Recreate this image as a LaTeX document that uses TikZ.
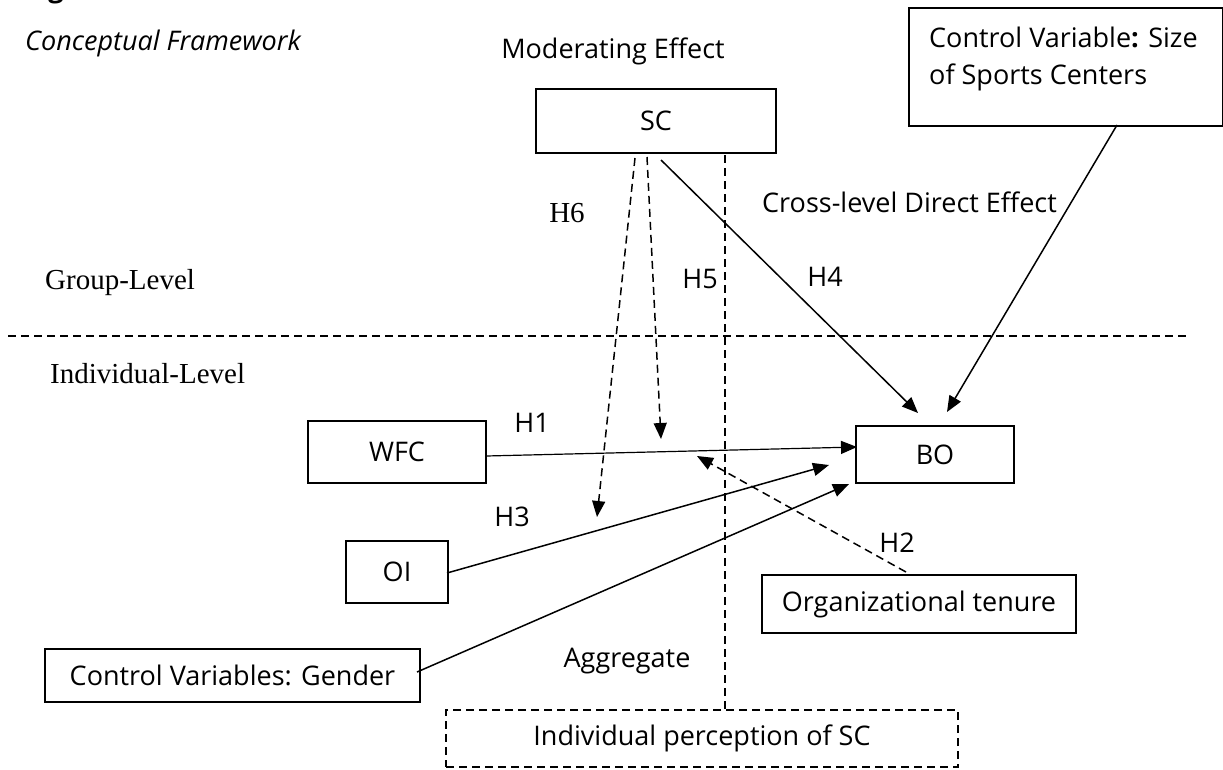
\documentclass[tikz,border=0pt]{standalone}
\usepackage{fontspec}
\setmainfont{Open Sans}
\newfontfamily\serifA{Liberation Serif}
\usetikzlibrary{arrows.meta}
\tikzset{
  box/.style={draw, line width=1.6pt, inner sep=0pt, font=\fontsize{27}{38}\selectfont},
  dbox/.style={box, line width=1.4pt, dash pattern=on 8pt off 5pt},
  lbl/.style={inner sep=0pt, anchor=base, font=\fontsize{27}{38}\selectfont},
  slbl/.style={inner sep=0pt, anchor=base, font=\serifA\fontsize{29}{34}\selectfont},
  arr/.style={line width=1.5pt, -{Triangle[length=16pt,width=13pt]}},
  darr/.style={arr, dash pattern=on 8pt off 5pt},
  dline/.style={line width=1.5pt, dash pattern=on 8pt off 5pt}
}
\begin{document}
\begin{tikzpicture}[x=1pt,y=-1pt]
\useasboundingbox (0,0) rectangle (1223,769);
% titles
\node[lbl, anchor=base west, font=\bfseries\fontsize{27}{38}\selectfont] (fig) at (25,-3) {Figure 1};
\node[lbl, anchor=base west, font=\itshape\fontsize{27}{38}\selectfont] (title) at (25,50) {Conceptual Framework};
\node[lbl] (mod) at (613,58) {Moderating Effect};
% boxes
\node[box, minimum width=240pt, minimum height=64pt] (sc) at (656,121) {SC};
\node[box, minimum width=314pt, minimum height=118pt, anchor=north west] (cv) at (908,7) {};
\node[inner sep=0pt, anchor=base west, align=left, font=\fontsize{27}{37}\selectfont] (cvt) at (929,84) {Control Variable{\bfseries :} Size\\of Sports Centers};
\node[box, minimum width=158pt, minimum height=57pt] (bo) at (935,454.5) {BO};
\node[box, minimum width=178pt, minimum height=62pt] (wfc) at (397,452) {WFC};
\node[box, minimum width=102pt, minimum height=62pt] (oi) at (397,572) {OI};
\node[box, minimum width=375pt, minimum height=53pt] (gen) at (232.5,675.5) {Control Variables: Gender};
\node[box, minimum width=314pt, minimum height=58pt] (ot) at (919,604) {Organizational tenure};
\node[dbox, minimum width=512pt, minimum height=57pt] (ip) at (702,738.5) {Individual perception of SC};
% level labels
\node[slbl, anchor=base west] (gl) at (45,289) {Group-Level};
\node[slbl, anchor=base west] (il) at (50,383) {Individual-Level};
\coordinate (dl1) at (8,336);
\coordinate (dl2) at (1190,336);
\draw[dline] (dl1) -- (dl2);
% hypothesis labels
\node[slbl] (h6) at (567,222) {H6};
\node[lbl] (h5) at (700,288) {H5};
\node[lbl] (h4) at (825,286) {H4};
\node[lbl, anchor=base west] (cl) at (762,212) {Cross-level Direct Effect};
\node[lbl] (h1) at (532,432) {H1};
\node[lbl] (h3) at (512,526) {H3};
\node[lbl] (h2) at (897,552) {H2};
\node[lbl] (agg) at (627,667) {Aggregate};
% coordinates
\coordinate (h4s) at (661,160);
\coordinate (h4e) at (918,413);
\coordinate (cvs) at (1117,125);
\coordinate (cve) at (947,412);
\coordinate (h1s) at (486,456);
\coordinate (h1e) at (857,447);
\coordinate (h3s) at (447,573);
\coordinate (h3e) at (829,465);
\coordinate (gs) at (417,672);
\coordinate (ge) at (849,484);
\coordinate (h2s) at (906,572);
\coordinate (h2e) at (697,456);
\coordinate (h6s) at (635,158);
\coordinate (h6e) at (597,517);
\coordinate (h5s) at (647,157);
\coordinate (h5e) at (661,439);
\coordinate (vs) at (725,155);
\coordinate (ve) at (725,710);
% connectors
\draw[dline] (vs) -- (ve);
\draw[arr] (h4s) -- (h4e);
\draw[arr] (cvs) -- (cve);
\draw[arr, line width=1.2pt] (h1s) -- (h1e);
\draw[arr] (h3s) -- (h3e);
\draw[arr] (gs) -- (ge);
\draw[darr] (h2s) -- (h2e);
\draw[darr] (h6s) -- (h6e);
\draw[darr] (h5s) -- (h5e);
\end{tikzpicture}
\end{document}
